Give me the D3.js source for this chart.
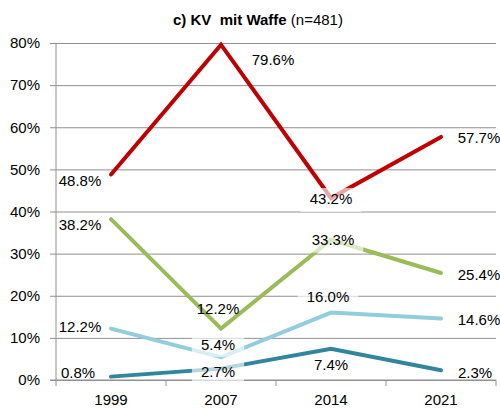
<!DOCTYPE html>
<html>
<head>
<meta charset="utf-8">
<script src="https://cdn.jsdelivr.net/npm/d3@7"></script>
<style>
  body { margin: 0; background: #fff; }
  svg text { font-family: 'Liberation Sans', Arial, sans-serif; }
</style>
</head>
<body>
<div id="chart"></div>
<script>
const years = ['1999', '2007', '2014', '2021']
const yTicks = [0, 10, 20, 30, 40, 50, 60, 70, 80]

const redValues = [48.8, 79.6, 43.2, 57.7]
const greenValues = [38.2, 12.2, 33.3, 25.4]
const lightBlueValues = [12.2, 5.4, 16.0, 14.6]
const tealValues = [0.8, 2.7, 7.4, 2.3]

// label placement relative to the point (text centre): [dx, dy, boxed]
const labelOffsets = {
  red: [[-31, 6, false], [52, 15, false], [0, 1, true], [38, 1, false]],
  green: [[-31, 6, false], [-3, -20, false], [2, 0, true], [38, 2, false]],
  lightBlue: [[-31, -2, false], [-3, -13, true], [-3, -16, true], [38, 1.5, false]],
  teal: [[-33, -4, false], [-3, 3, true], [0, 16, false], [34, 2, false]],
}

const series = [
  { key: 'red', values: redValues, color: '#C00000' },
  { key: 'green', values: greenValues, color: '#9BBB59' },
  { key: 'lightBlue', values: lightBlueValues, color: '#92CDDC' },
  { key: 'teal', values: tealValues, color: '#31859C' },
]

const width = 500
const height = 410
const margin = { left: 56, top: 43, right: 4, bottom: 30 }
const innerWidth = width - margin.left - margin.right
const innerHeight = height - margin.top - margin.bottom
const gridColor = '#909090'

const svg = d3.select('#chart')
  .append('svg')
  .attr('width', width)
  .attr('height', height)

const title = svg.append('text')
  .attr('x', 258)
  .attr('y', 25)
  .attr('text-anchor', 'middle')
  .style('font-size', '15px')
  .attr('fill', '#000')
title.append('tspan').attr('font-weight', 'bold').text('c) KV\u00a0\u00a0mit Waffe')
title.append('tspan').text(' (n=481)')

const chart = svg.append('g').attr('transform', `translate(${margin.left}, ${margin.top})`)

const xScale = d3.scaleBand().domain(years).range([0, innerWidth])
const yScale = d3.scaleLinear().domain([0, 80]).range([innerHeight, 0])

// gridlines + y labels
const yAxis = d3.axisLeft(yScale)
  .tickValues(yTicks)
  .tickSize(-innerWidth)
  .tickFormat(d => d + '%')

const yG = chart.append('g').attr('class', 'y-axis').call(yAxis)
yG.select('.domain').remove()
yG.selectAll('.tick line')
  .attr('x1', -6)
  .attr('stroke', gridColor)
yG.selectAll('.tick text')
  .attr('x', -16)
  .style('font-size', '15px')
  .attr('fill', '#000')

// x axis
const xAxis = d3.axisBottom(xScale).tickSize(0).tickPadding(14)
const xG = chart.append('g')
  .attr('class', 'x-axis')
  .attr('transform', `translate(0, ${innerHeight})`)
  .call(xAxis)
xG.select('.domain').remove()
xG.selectAll('.tick text').style('font-size', '15px').attr('fill', '#000')

const bandEdges = years.map(y => xScale(y)).concat([innerWidth])
chart.append('g')
  .selectAll('line')
  .data(bandEdges)
  .join('line')
  .attr('x1', d => d)
  .attr('x2', d => d)
  .attr('y1', innerHeight)
  .attr('y2', innerHeight + 6)
  .attr('stroke', gridColor)

// axis lines
chart.append('line')
  .attr('x1', 0)
  .attr('x2', 0)
  .attr('y1', 0)
  .attr('y2', innerHeight)
  .attr('stroke', gridColor)
chart.append('line')
  .attr('x1', -6)
  .attr('x2', innerWidth)
  .attr('y1', innerHeight)
  .attr('y2', innerHeight)
  .attr('stroke', gridColor)

const cx = y => xScale(y) + xScale.bandwidth() / 2

const line = d3.line()
  .x((d, i) => cx(years[i]))
  .y(d => yScale(d))

chart.append('g')
  .selectAll('path')
  .data(series)
  .join('path')
  .attr('d', d => line(d.values))
  .attr('fill', 'none')
  .attr('stroke', d => d.color)
  .attr('stroke-width', 4)
  .attr('stroke-linecap', 'round')
  .attr('stroke-linejoin', 'miter')

// data labels, some with a semi-transparent white box
const labelData = []
series.forEach(s => {
  s.values.forEach((v, i) => {
    const off = labelOffsets[s.key][i]
    labelData.push({
      x: cx(years[i]) + off[0],
      y: yScale(v) + off[1],
      boxed: off[2],
      text: v.toFixed(1) + '%',
    })
  })
})

const labels = chart.append('g')
  .selectAll('g')
  .data(labelData)
  .join('g')
  .attr('transform', d => `translate(${d.x}, ${d.y})`)

const boxes = labels.filter(d => d.boxed).append('rect')

labels.append('text')
  .attr('text-anchor', 'middle')
  .attr('dy', '0.36em')
  .style('font-size', '15px')
  .attr('fill', '#000')
  .text(d => d.text)

boxes.each(function () {
  const w = this.parentNode.querySelector('text').getComputedTextLength()
  d3.select(this)
    .attr('x', -w / 2 - 9)
    .attr('y', -11)
    .attr('width', w + 18)
    .attr('height', 24)
    .attr('fill', '#fff')
    .attr('fill-opacity', 0.65)
})
</script>
</body>
</html>
